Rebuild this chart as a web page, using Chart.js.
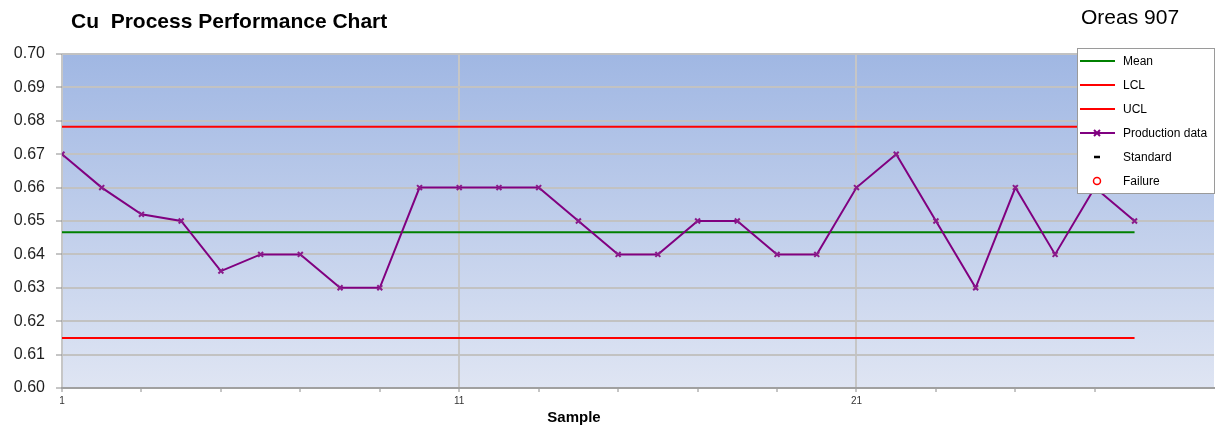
<!DOCTYPE html>
<html>
<head>
<meta charset="utf-8">
<script src="https://cdn.jsdelivr.net/npm/chart.js@4.4.1/dist/chart.umd.min.js"></script>
<style>
  body { margin: 0; background: #fff; font-family: "Liberation Sans", Arial, sans-serif; }
  #wrap { position: relative; width: 1221px; height: 427px; overflow: hidden; }
  #wrap canvas { position: absolute; left: 0; top: 0; }
  .chart-title { position: absolute; left: 71px; top: 10px; line-height: 21px; font-weight: bold; font-size: 21px; color: #000; white-space: pre; }
  .chart-subtitle { position: absolute; left: 1081px; top: 6px; line-height: 21px; font-size: 21px; color: #000; }
  .axis-title { position: absolute; left: 574px; top: 409px; line-height: 15px; transform: translateX(-50%); font-weight: bold; font-size: 15px; color: #000; }
  #legend { position: absolute; left: 1077px; top: 48px; width: 138px; height: 146px; background: #fff; border: 1px solid #9a9a9a; box-sizing: border-box; }
  .lg-row { position: absolute; left: 0; height: 20px; width: 100%; }
  .lg-row canvas { position: absolute; left: 5px; top: 0; }
  .lg-row span { position: absolute; left: 45px; top: 3px; line-height: 14px; font-size: 12px; color: #000; white-space: nowrap; }
</style>
</head>
<body>
<div id="wrap">
  <canvas id="chart" width="1221" height="427"></canvas>
  <div class="chart-title">Cu  Process Performance Chart</div>
  <div class="chart-subtitle">Oreas 907</div>
  <div class="axis-title">Sample</div>
  <div id="legend"></div>
</div>
<script>
// Sample numbers and Cu results (%)
const samples = [1, 2, 3, 4, 5, 6, 7, 8, 9, 10, 11, 12, 13, 14, 15, 16, 17, 18, 19, 20, 21, 22, 23, 24, 25, 26, 27, 28];
const cuValues = [0.670, 0.660, 0.652, 0.650, 0.635, 0.640, 0.640, 0.630, 0.630, 0.660,
                  0.660, 0.660, 0.660, 0.650, 0.640, 0.640, 0.650, 0.650, 0.640, 0.640,
                  0.660, 0.670, 0.650, 0.630, 0.660, 0.640, 0.660, 0.650];
// Control limits
const meanValue = 0.6466;
const lclValue = 0.6150;
const uclValue = 0.6782;
// Axis ticks
const xTickValues = [1, 3, 5, 7, 9, 11, 13, 15, 17, 19, 21, 23, 25, 27];
const xLabelledTicks = [1, 11, 21];

const firstSample = samples[0];
const lastSample = samples[samples.length - 1];
const flatLine = (v) => [{ x: firstSample, y: v }, { x: lastSample, y: v }];

const plotBackground = {
  id: 'plotBackground',
  beforeDraw(chart) {
    const { ctx, chartArea: a } = chart;
    const g = ctx.createLinearGradient(0, a.top, 0, a.bottom);
    g.addColorStop(0, '#a0b7e3');
    g.addColorStop(1, '#dfe5f3');
    ctx.save();
    ctx.fillStyle = g;
    ctx.fillRect(a.left, a.top, a.right - a.left, a.bottom - a.top);
    ctx.restore();
  }
};

const chart = new Chart(document.getElementById('chart'), {
  type: 'line',
  data: {
    datasets: [
      { label: 'Mean', data: flatLine(meanValue), borderColor: '#008000', borderWidth: 2, pointRadius: 0, order: 3 },
      { label: 'LCL', data: flatLine(lclValue), borderColor: '#ff0000', borderWidth: 2, pointRadius: 0, order: 3 },
      { label: 'UCL', data: flatLine(uclValue), borderColor: '#ff0000', borderWidth: 2, pointRadius: 0, order: 3 },
      {
        label: 'Production data',
        data: samples.map((s, i) => ({ x: s, y: cuValues[i] })),
        borderColor: '#800080', backgroundColor: '#800080', borderWidth: 2,
        pointStyle: 'crossRot', pointRadius: 3.5, pointBorderWidth: 2, pointBorderColor: '#8a1a8a',
        tension: 0, order: 1
      },
      { label: 'Standard', data: [], borderColor: '#000000', showLine: false, pointStyle: 'line', order: 2 },
      { label: 'Failure', data: [], borderColor: '#ff0000', showLine: false, pointStyle: 'circle', order: 2 }
    ]
  },
  options: {
    responsive: false,
    animation: false,
    layout: { padding: { top: 54, right: 7, left: 0, bottom: 0 } },
    plugins: { legend: { display: false }, tooltip: { enabled: false } },
    scales: {
      x: {
        type: 'linear',
        min: 1,
        max: 30,
        afterFit(s) { s.height = 39; },
        afterBuildTicks(s) { s.ticks = xTickValues.map(v => ({ value: v })); },
        ticks: {
          autoSkip: false, maxRotation: 0, padding: 3, color: '#333',
          font: { family: '"Liberation Sans", Arial, sans-serif', size: 10 },
          callback: (v) => xLabelledTicks.includes(v) ? String(v) : ''
        },
        grid: {
          color: (c) => (c.tick && xLabelledTicks.includes(c.tick.value)) ? '#c6c6c6' : 'rgba(0,0,0,0)',
          lineWidth: 2, tickColor: '#8c8c8c', tickLength: 4, tickWidth: 1
        },
        border: { color: '#a0a0a0', width: 2 }
      },
      y: {
        min: 0.6,
        max: 0.7,
        afterFit(s) { s.width = 62; },
        ticks: {
          stepSize: 0.01, padding: 11, color: '#1e1e1e',
          font: { family: '"Liberation Sans", Arial, sans-serif', size: 16 },
          callback: (v) => Number(v).toFixed(2)
        },
        grid: { color: '#c2c2c2', lineWidth: 2, tickColor: '#8c8c8c', tickLength: 6, tickWidth: 1 },
        border: { display: false }
      }
    }
  },
  plugins: [plotBackground]
});

// Legend box built from the chart's datasets
(function buildLegend() {
  const box = document.getElementById('legend');
  chart.data.datasets.forEach((ds, i) => {
    const row = document.createElement('div');
    row.className = 'lg-row';
    row.style.top = (2 + i * 24) + 'px';
    const c = document.createElement('canvas');
    c.width = 38; c.height = 20;
    const g = c.getContext('2d');
    const cy = 10;
    g.strokeStyle = ds.borderColor;
    if (ds.showLine === false) {
      if (ds.pointStyle === 'line') {
        g.lineWidth = 2.5;
        g.beginPath(); g.moveTo(16, cy); g.lineTo(22, cy); g.stroke();
      } else {
        g.lineWidth = 1.5;
        g.beginPath(); g.arc(19, cy, 3.5, 0, Math.PI * 2); g.stroke();
      }
    } else {
      g.lineWidth = 2;
      g.beginPath(); g.moveTo(2, cy); g.lineTo(37, cy); g.stroke();
      if (ds.pointStyle === 'crossRot') {
        g.beginPath();
        g.moveTo(16, cy - 3); g.lineTo(22, cy + 3);
        g.moveTo(22, cy - 3); g.lineTo(16, cy + 3);
        g.stroke();
      }
    }
    const t = document.createElement('span');
    t.textContent = ds.label;
    row.appendChild(c);
    row.appendChild(t);
    box.appendChild(row);
  });
})();
</script>
</body>
</html>
